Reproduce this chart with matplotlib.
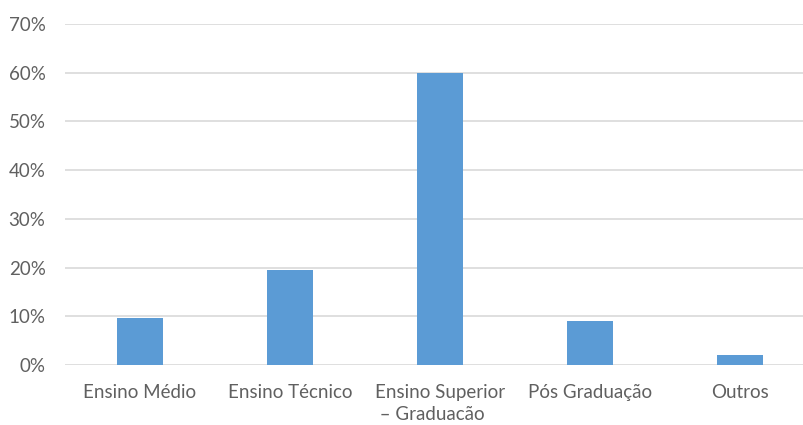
import matplotlib
matplotlib.use("Agg")
import matplotlib.pyplot as plt
from matplotlib.ticker import PercentFormatter

categories = ["Ensino Médio", "Ensino Técnico", "Ensino Superior\n – Graduacão", "Pós Graduação", "Outros"]
values = [9.6, 19.4, 60.0, 9.0, 2.0]
yticks = [0, 10, 20, 30, 40, 50, 60, 70]

plt.rcParams['font.family'] = ['Lato', 'DejaVu Sans']
fig = plt.figure(figsize=(8.04, 4.25), dpi=100)
ax = fig.add_axes([65/804, (425-365)/425, (804-65)/804, (365-24)/425])

x = list(range(len(categories)))
ax.bar(x, values, width=0.313, color="#5B9BD5", zorder=3)
ax.set_xlim(-0.5, -0.5 + (804-65)/150)
ax.set_ylim(0, 70)
ax.set_yticks(yticks)
ax.yaxis.set_major_formatter(PercentFormatter(decimals=0))
ax.grid(axis='y', color="#d9d9d9", linewidth=1.2, zorder=0)
for s in ax.spines.values():
    s.set_visible(False)
ax.tick_params(axis='both', length=0, colors="#606060", labelsize=13.5)
ax.tick_params(axis='y', pad=14)
ax.tick_params(axis='x', pad=14)
ax.set_xticks(x)
ax.set_xticklabels(categories, multialignment='left', linespacing=1.3)
fig.savefig("out.png", dpi=100)
